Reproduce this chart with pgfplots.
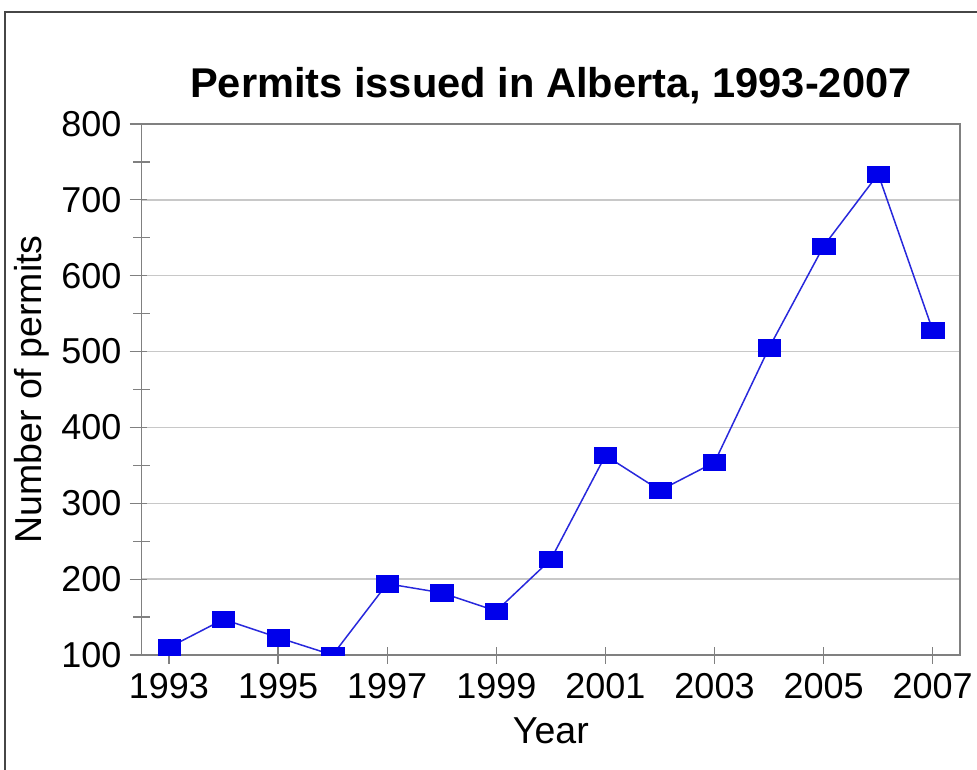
\documentclass[border=0pt]{standalone}
\usepackage{pgfplots}
\pgfplotsset{compat=1.18}
\usepackage{fontspec}
\setmainfont{Liberation Sans}
\definecolor{axgray}{RGB}{128,128,128}
\definecolor{gridgray}{RGB}{200,200,200}
\definecolor{framegray}{RGB}{70,70,70}
\definecolor{plotblue}{RGB}{0,0,235}
\definecolor{lineblue}{RGB}{40,40,220}
\begin{document}
\begin{tikzpicture}
\useasboundingbox (0pt,0pt) rectangle (977pt,-769pt);
\draw[framegray, line width=1.5pt] (5pt,-780pt) -- (5pt,-12pt) -- (990pt,-12pt);
\begin{axis}[
  at={(141.7pt,-655pt)}, anchor=south west,
  scale only axis, width=818.3pt, height=531pt,
  xmin=1992.5, xmax=2007.5,
  ymin=100, ymax=800,
  clip marker paths=true,
  xtick={1993,1995,...,2007},
  minor x tick num=1,
  ytick={100,200,...,800},
  minor y tick num=1,
  xtick pos=bottom, ytick pos=left,
  x tick label style={/pgf/number format/1000 sep={}},
  /pgf/number format/assume math mode=true,
  tick label style={font=\fontsize{36}{40}\selectfont, inner sep=0pt},
  xticklabel style={anchor=north, yshift=-1pt},
  yticklabel style={anchor=east, xshift=-3pt},
  tick align=outside,
  major tick length=17pt,
  minor tick length=17pt,
  major x tick style={yshift=8.5pt},
  minor x tick style={yshift=8.5pt},
  major y tick style={xshift=5pt},
  minor y tick style={xshift=8.5pt},
  every tick/.style={axgray, line width=1.2pt},
  axis line style={axgray, line width=1.5pt},
  ymajorgrids,
  major grid style={gridgray, line width=1.5pt},
  title={Permits issued in Alberta, 1993-2007},
  every axis title shift=0pt,
  title style={at={(axis description cs:0.5,1)}, anchor=base, yshift=27pt,
    font=\fontsize{41.6}{46}\selectfont\bfseries},
  xlabel={Year},
  every axis x label/.style={at={(axis description cs:0.5,0)}, anchor=base, yshift=-88.3pt,
    font=\fontsize{37.5}{42}\selectfont},
  ylabel={Number of permits},
  every axis y label/.style={at={(axis description cs:0,0.5)}, xshift=-99.7pt, rotate=90, anchor=base,
    font=\fontsize{37.5}{42}\selectfont},
]
\addplot[lineblue, line width=1.5pt, mark=square*, mark size=8.2pt,
  mark options={plotblue, fill=plotblue, xscale=1.36, line width=0.5pt}]
  coordinates {
  (1993,110) (1994,147) (1995,123) (1996,100) (1997,194) (1998,182)
  (1999,158) (2000,226) (2001,363) (2002,317) (2003,354) (2004,505)
  (2005,639) (2006,734) (2007,528)
  };
\end{axis}
\end{tikzpicture}
\end{document}
